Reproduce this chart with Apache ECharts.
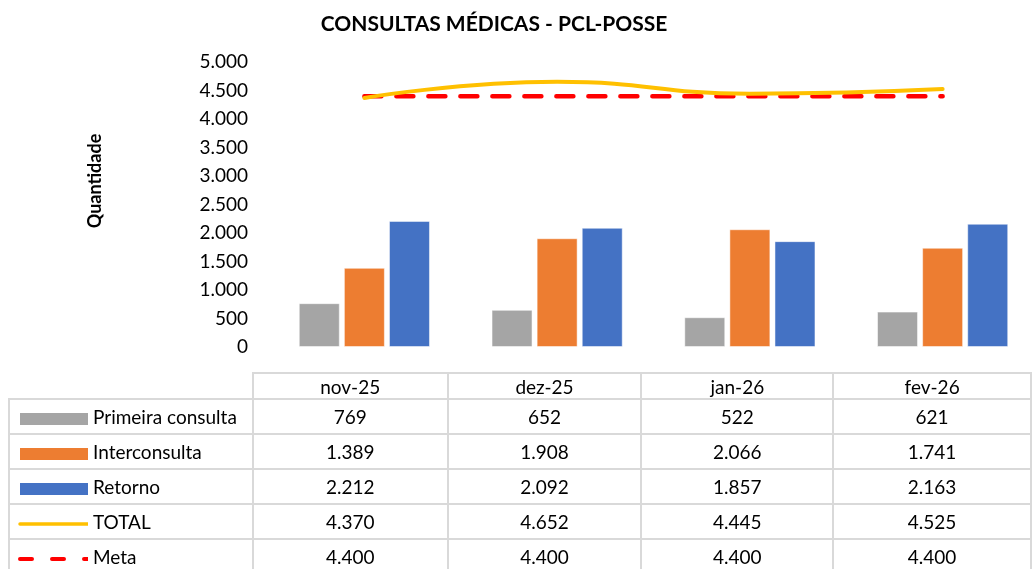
<!DOCTYPE html>
<html>
<head>
<meta charset="utf-8">
<title>Consultas médicas</title>
<script src="https://cdn.jsdelivr.net/npm/echarts@6/dist/echarts.min.js"></script>
<style>
  html, body { margin: 0; padding: 0; background: #fff; }
  #wrap { position: relative; width: 1032px; height: 569px; overflow: hidden; }
  #chart { position: absolute; left: 0; top: 0; width: 1060px; height: 569px; }
  #tabela { position: absolute; left: 8px; top: 372px; border-collapse: collapse; table-layout: fixed;
            font-family: Lato, "Open Sans", sans-serif; font-size: 19px; color: #000; }
  #tabela td { border: 2px solid #d9d9d9; text-align: center; padding: 0; height: 33px; white-space: nowrap; }
  #tabela tr.head td { height: 24px; }
  #tabela td.vazio { border: none; }
  #tabela td.nome { text-align: left; padding-left: 8px; }
  .simb { display: inline-block; width: 70px; height: 14px; vertical-align: middle; margin-right: 5px; }
</style>
</head>
<body>
<div id="wrap">
  <div id="chart"></div>
  <table id="tabela"></table>
</div>
<script type="text/javascript">
var meses = ['nov-25', 'dez-25', 'jan-26', 'fev-26'];
var primeira = [769, 652, 522, 621];
var interconsulta = [1389, 1908, 2066, 1741];
var retorno = [2212, 2092, 1857, 2163];
var total = [4370, 4652, 4445, 4525];
var meta = [4400, 4400, 4400, 4400];

var cores = { primeira: '#A5A5A5', inter: '#ED7D31', retorno: '#4472C4', total: '#FFC000', meta: '#FF0000' };

function fmt(v) {
  return String(v).replace(/\B(?=(\d{3})+(?!\d))/g, '.');
}

var chart = echarts.init(document.getElementById('chart'));
chart.setOption({
  animation: false,
  title: {
    text: 'CONSULTAS MÉDICAS - PCL-POSSE', left: 489, top: 9, textAlign: 'center',
    textStyle: { fontFamily: 'Lato', fontSize: 21, fontWeight: 'bold', color: '#000' }
  },
  graphic: [{
    type: 'text', x: 95, y: 181, rotation: Math.PI / 2,
    style: { text: 'Quantidade', fontFamily: 'Lato', fontSize: 18, fontWeight: 'bold', fill: '#000',
             align: 'center', verticalAlign: 'middle' }
  }],
  grid: { left: 268, top: 62, width: 771, height: 285, containLabel: false },
  xAxis: {
    type: 'category', data: meses,
    axisLine: { show: false }, axisTick: { show: false }, axisLabel: { show: false }
  },
  yAxis: {
    type: 'value', min: 0, max: 5000, interval: 500,
    splitLine: { show: false }, axisLine: { show: false }, axisTick: { show: false },
    axisLabel: { margin: 20, fontFamily: 'Lato', fontSize: 19, color: '#000', formatter: fmt }
  },
  series: [
    { name: 'Primeira consulta', type: 'bar', data: primeira, barWidth: 41, barGap: '10%',
      itemStyle: { color: cores.primeira, borderColor: 'rgba(255,255,255,0.5)', borderWidth: 1 } },
    { name: 'Interconsulta', type: 'bar', data: interconsulta, barWidth: 41, barGap: '10%',
      itemStyle: { color: cores.inter, borderColor: 'rgba(255,255,255,0.5)', borderWidth: 1 } },
    { name: 'Retorno', type: 'bar', data: retorno, barWidth: 41, barGap: '10%',
      itemStyle: { color: cores.retorno, borderColor: 'rgba(255,255,255,0.5)', borderWidth: 1 } },
    { name: 'Meta', type: 'line', data: meta, symbol: 'none', z: 3,
      lineStyle: { color: cores.meta, width: 4.5, type: [17, 15], cap: 'round' } },
    { name: 'TOTAL', type: 'line', data: total, symbol: 'none', smooth: 0.5, z: 4,
      lineStyle: { color: cores.total, width: 4, cap: 'round' } }
  ]
});

// tabela de dados abaixo do gráfico
var linhas = [
  { nome: 'Primeira consulta', valores: primeira, tipo: 'bar', cor: cores.primeira },
  { nome: 'Interconsulta', valores: interconsulta, tipo: 'bar', cor: cores.inter },
  { nome: 'Retorno', valores: retorno, tipo: 'bar', cor: cores.retorno },
  { nome: 'TOTAL', valores: total, tipo: 'line', cor: cores.total },
  { nome: 'Meta', valores: meta, tipo: 'dash', cor: cores.meta }
];
var larguras = [244, 197, 196, 194, 200];

function simbolo(l) {
  var svg = '<svg class="simb" viewBox="0 0 70 14">';
  if (l.tipo == 'bar') {
    svg += '<rect x="2" y="1" width="68" height="12" fill="' + l.cor + '"/>';
  } else if (l.tipo == 'line') {
    svg += '<line x1="2" y1="7" x2="70" y2="7" stroke="' + l.cor + '" stroke-width="3.5" stroke-linecap="round"/>';
  } else {
    svg += '<line x1="2" y1="7" x2="70" y2="7" stroke="' + l.cor + '" stroke-width="4" stroke-linecap="round" stroke-dasharray="12 20"/>';
  }
  return svg + '</svg>';
}

var html = '<colgroup>';
larguras.forEach(function (w) { html += '<col style="width:' + w + 'px">'; });
html += '</colgroup><tr class="head"><td class="vazio"></td>';
meses.forEach(function (m) { html += '<td>' + m + '</td>'; });
html += '</tr>';
linhas.forEach(function (l) {
  html += '<tr><td class="nome">' + simbolo(l) + l.nome + '</td>';
  l.valores.forEach(function (v) { html += '<td>' + fmt(v) + '</td>'; });
  html += '</tr>';
});
document.getElementById('tabela').innerHTML = html;
</script>
</body>
</html>
